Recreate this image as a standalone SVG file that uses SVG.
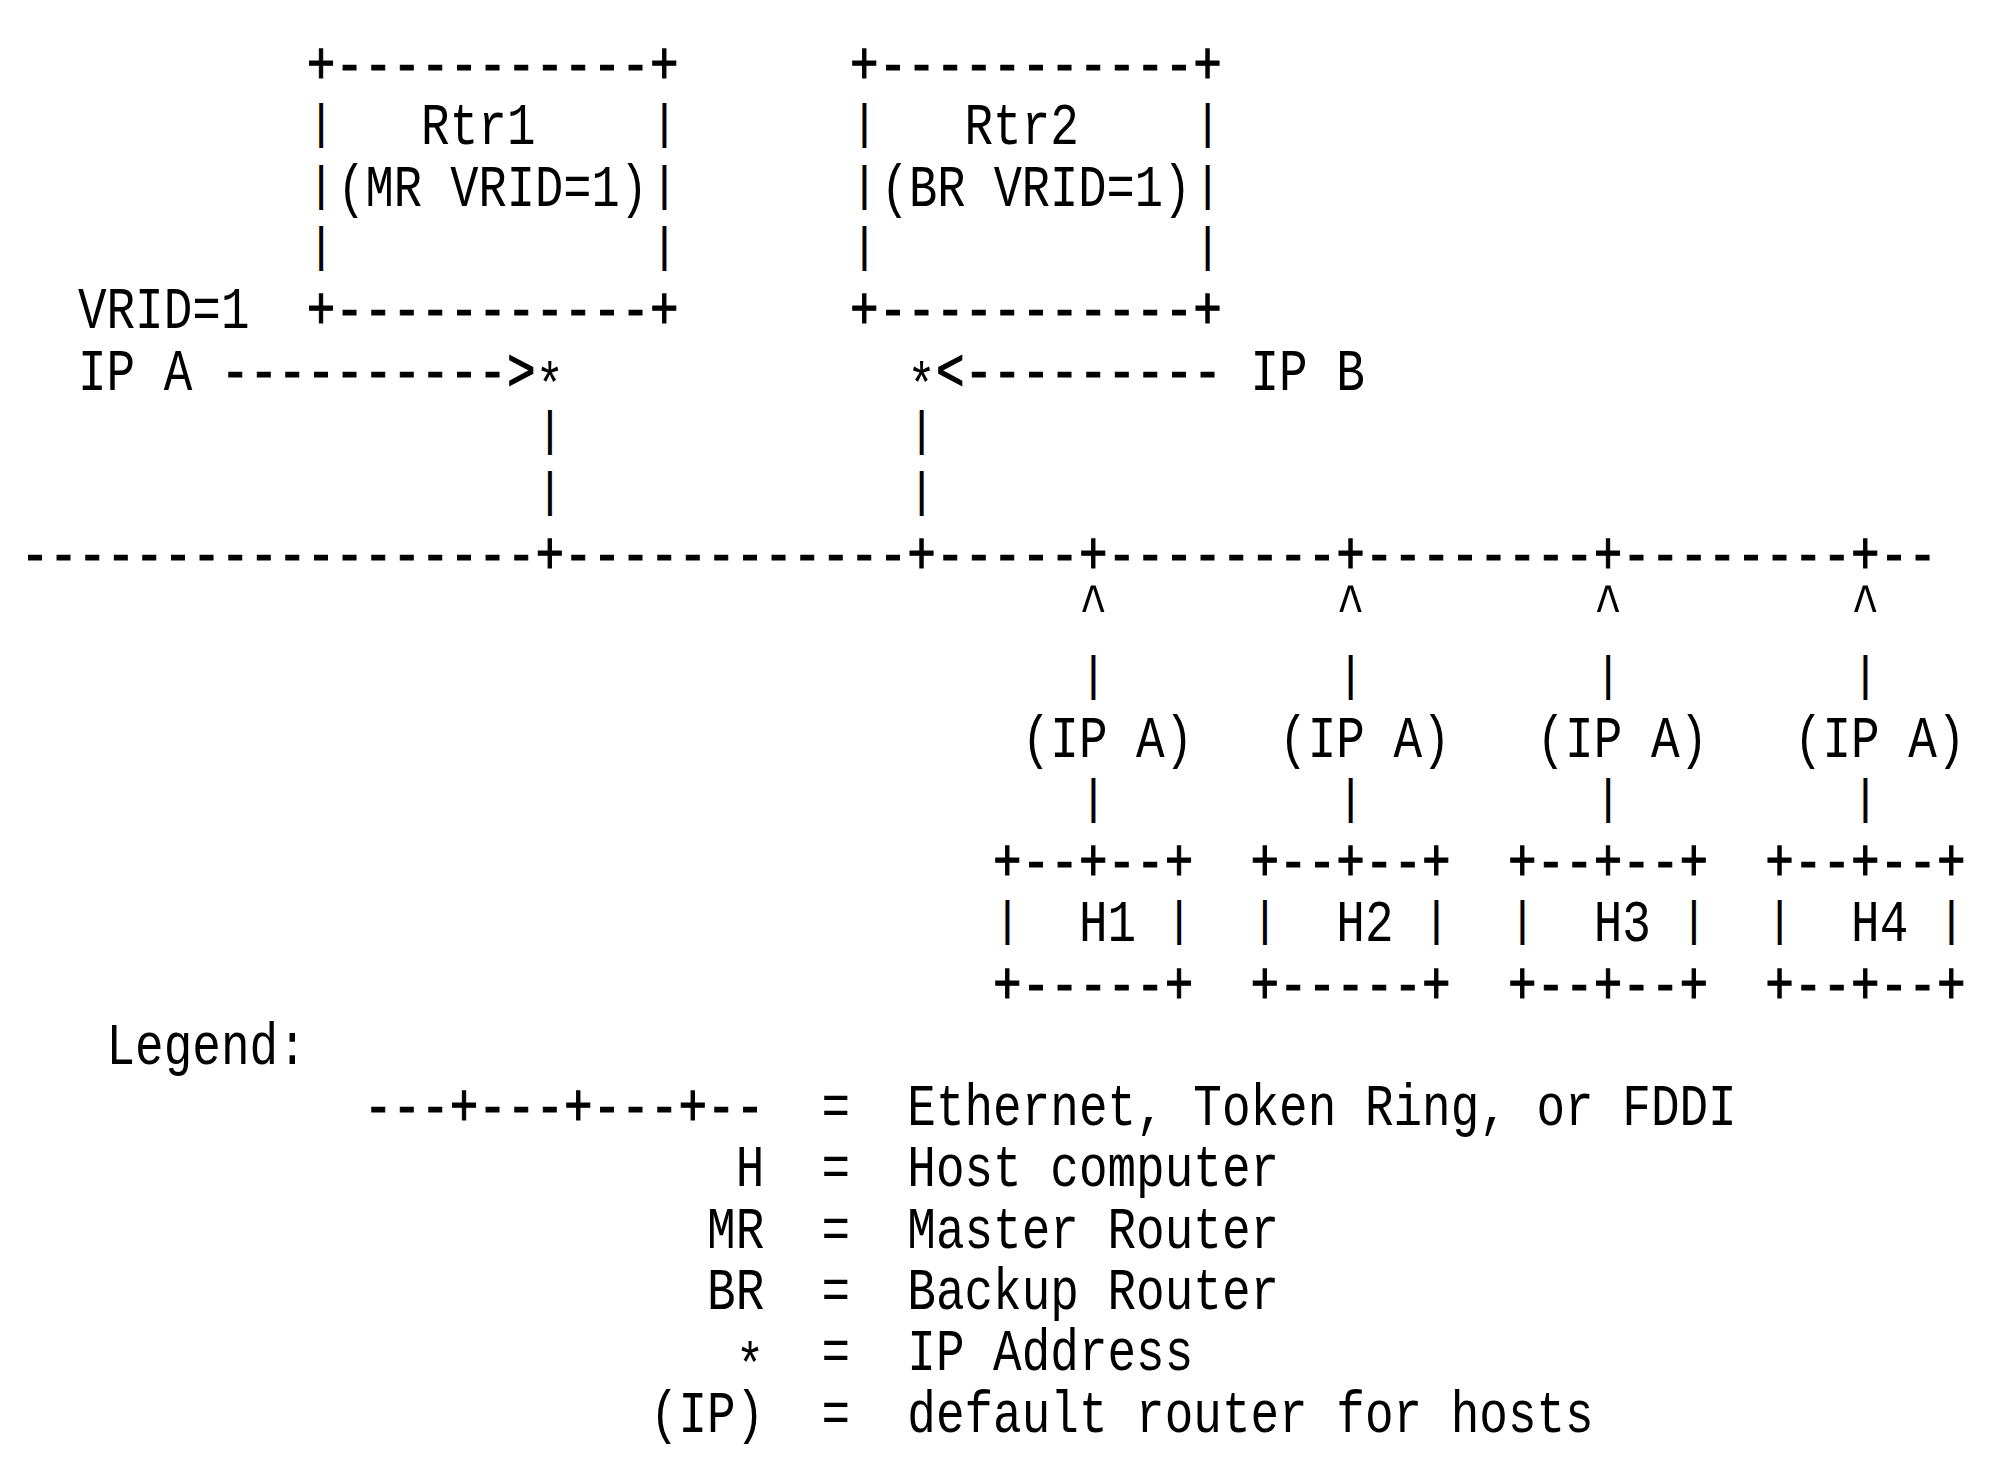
<svg xmlns="http://www.w3.org/2000/svg" width="2000" height="1465" viewBox="0 0 2000 1465">
<style>
text { font-family: "Liberation Mono", "DejaVu Sans Mono", monospace; font-size: 60px; fill: #000; }
.p { font-size: 48px; }
.d { stroke: #000; stroke-width: 1.2px; }
</style>
<rect x="0" y="0" width="2000" height="1465" fill="#fff"/>

<g id="rtr1">
  <text class="d" x="306.7" y="83" textLength="371.8" lengthAdjust="spacingAndGlyphs">+-----------+</text>
  <text class="p" x="306.7" y="138.3">|</text>
  <text x="421.1" y="144.3" textLength="114.4" lengthAdjust="spacingAndGlyphs">Rtr1</text>
  <text class="p" x="649.9" y="138.3">|</text>
  <text class="p" x="306.7" y="199.6">|</text>
  <text x="337.3" y="205.6" textLength="310.6" lengthAdjust="spacingAndGlyphs">(MR VRID=1)</text>
  <text class="p" x="649.9" y="199.6">|</text>
  <text class="p" x="306.7" y="260.9">|</text>
  <text class="p" x="649.9" y="260.9">|</text>
  <text class="d" x="306.7" y="328.2" textLength="371.8" lengthAdjust="spacingAndGlyphs">+-----------+</text>
</g>

<g id="rtr2">
  <text class="d" x="850.1" y="83" textLength="371.8" lengthAdjust="spacingAndGlyphs">+-----------+</text>
  <text class="p" x="850.1" y="138.3">|</text>
  <text x="964.5" y="144.3" textLength="114.4" lengthAdjust="spacingAndGlyphs">Rtr2</text>
  <text class="p" x="1193.3" y="138.3">|</text>
  <text class="p" x="850.1" y="199.6">|</text>
  <text x="880.7" y="205.6" textLength="310.6" lengthAdjust="spacingAndGlyphs">(BR VRID=1)</text>
  <text class="p" x="1193.3" y="199.6">|</text>
  <text class="p" x="850.1" y="260.9">|</text>
  <text class="p" x="1193.3" y="260.9">|</text>
  <text class="d" x="850.1" y="328.2" textLength="371.8" lengthAdjust="spacingAndGlyphs">+-----------+</text>
</g>

<g id="labels">
  <text x="77.9" y="328.2" textLength="171.6" lengthAdjust="spacingAndGlyphs">VRID=1</text>
  <text x="77.9" y="389.5" textLength="114.4" lengthAdjust="spacingAndGlyphs">IP A</text>
  <text x="1250.5" y="389.5" textLength="114.4" lengthAdjust="spacingAndGlyphs">IP B</text>
</g>

<g id="connectors">
  <text class="d" x="220.9" y="389.5" textLength="314.6" lengthAdjust="spacingAndGlyphs">----------&gt;</text>
  <text x="535.5" y="403.5" textLength="28.6" lengthAdjust="spacingAndGlyphs">*</text>
  <text x="907.3" y="403.5" textLength="28.6" lengthAdjust="spacingAndGlyphs">*</text>
  <text class="d" x="935.9" y="389.5" textLength="286" lengthAdjust="spacingAndGlyphs">&lt;---------</text>
  <text class="p" x="535.5" y="444.8">|</text>
  <text class="p" x="535.5" y="506.1">|</text>
  <text class="p" x="907.3" y="444.8">|</text>
  <text class="p" x="907.3" y="506.1">|</text>
  <text class="d" x="20.7" y="573.4" textLength="1916.2" lengthAdjust="spacingAndGlyphs">------------------+------------+-----+--------+--------+--------+--</text>
  <text x="1078.9" y="624.7" textLength="28.6" lengthAdjust="spacingAndGlyphs">^</text>
  <text x="1336.3" y="624.7" textLength="28.6" lengthAdjust="spacingAndGlyphs">^</text>
  <text x="1593.7" y="624.7" textLength="28.6" lengthAdjust="spacingAndGlyphs">^</text>
  <text x="1851.1" y="624.7" textLength="28.6" lengthAdjust="spacingAndGlyphs">^</text>
  <text class="p" x="1078.9" y="690">|</text>
  <text class="p" x="1336.3" y="690">|</text>
  <text class="p" x="1593.7" y="690">|</text>
  <text class="p" x="1851.1" y="690">|</text>
  <text x="1021.7" y="757.3" textLength="171.6" lengthAdjust="spacingAndGlyphs">(IP A)</text>
  <text x="1279.1" y="757.3" textLength="171.6" lengthAdjust="spacingAndGlyphs">(IP A)</text>
  <text x="1536.5" y="757.3" textLength="171.6" lengthAdjust="spacingAndGlyphs">(IP A)</text>
  <text x="1793.9" y="757.3" textLength="171.6" lengthAdjust="spacingAndGlyphs">(IP A)</text>
  <text class="p" x="1078.9" y="812.6">|</text>
  <text class="p" x="1336.3" y="812.6">|</text>
  <text class="p" x="1593.7" y="812.6">|</text>
  <text class="p" x="1851.1" y="812.6">|</text>
</g>

<g id="h1">
  <text class="d" x="993.1" y="879.9" textLength="200.2" lengthAdjust="spacingAndGlyphs">+--+--+</text>
  <text class="p" x="993.1" y="935.2">|</text>
  <text x="1078.9" y="941.2" textLength="57.2" lengthAdjust="spacingAndGlyphs">H1</text>
  <text class="p" x="1164.7" y="935.2">|</text>
  <text class="d" x="993.1" y="1002.5" textLength="200.2" lengthAdjust="spacingAndGlyphs">+-----+</text>
</g>
<g id="h2">
  <text class="d" x="1250.5" y="879.9" textLength="200.2" lengthAdjust="spacingAndGlyphs">+--+--+</text>
  <text class="p" x="1250.5" y="935.2">|</text>
  <text x="1336.3" y="941.2" textLength="57.2" lengthAdjust="spacingAndGlyphs">H2</text>
  <text class="p" x="1422.1" y="935.2">|</text>
  <text class="d" x="1250.5" y="1002.5" textLength="200.2" lengthAdjust="spacingAndGlyphs">+-----+</text>
</g>
<g id="h3">
  <text class="d" x="1507.9" y="879.9" textLength="200.2" lengthAdjust="spacingAndGlyphs">+--+--+</text>
  <text class="p" x="1507.9" y="935.2">|</text>
  <text x="1593.7" y="941.2" textLength="57.2" lengthAdjust="spacingAndGlyphs">H3</text>
  <text class="p" x="1679.5" y="935.2">|</text>
  <text class="d" x="1507.9" y="1002.5" textLength="200.2" lengthAdjust="spacingAndGlyphs">+--+--+</text>
</g>
<g id="h4">
  <text class="d" x="1765.3" y="879.9" textLength="200.2" lengthAdjust="spacingAndGlyphs">+--+--+</text>
  <text class="p" x="1765.3" y="935.2">|</text>
  <text x="1851.1" y="941.2" textLength="57.2" lengthAdjust="spacingAndGlyphs">H4</text>
  <text class="p" x="1936.9" y="935.2">|</text>
  <text class="d" x="1765.3" y="1002.5" textLength="200.2" lengthAdjust="spacingAndGlyphs">+--+--+</text>
</g>

<g id="legend">
  <text x="106.5" y="1063.8" textLength="200.2" lengthAdjust="spacingAndGlyphs">Legend:</text>
  <text class="d" x="363.9" y="1125.1" textLength="400.4" lengthAdjust="spacingAndGlyphs">---+---+---+--</text>
  <text x="821.5" y="1125.1" textLength="28.6" lengthAdjust="spacingAndGlyphs">=</text>
  <text x="907.3" y="1125.1" textLength="829.4" lengthAdjust="spacingAndGlyphs">Ethernet, Token Ring, or FDDI</text>
  <text x="735.7" y="1186.4" textLength="28.6" lengthAdjust="spacingAndGlyphs">H</text>
  <text x="821.5" y="1186.4" textLength="28.6" lengthAdjust="spacingAndGlyphs">=</text>
  <text x="907.3" y="1186.4" textLength="371.8" lengthAdjust="spacingAndGlyphs">Host computer</text>
  <text x="707.1" y="1247.7" textLength="57.2" lengthAdjust="spacingAndGlyphs">MR</text>
  <text x="821.5" y="1247.7" textLength="28.6" lengthAdjust="spacingAndGlyphs">=</text>
  <text x="907.3" y="1247.7" textLength="371.8" lengthAdjust="spacingAndGlyphs">Master Router</text>
  <text x="707.1" y="1309" textLength="57.2" lengthAdjust="spacingAndGlyphs">BR</text>
  <text x="821.5" y="1309" textLength="28.6" lengthAdjust="spacingAndGlyphs">=</text>
  <text x="907.3" y="1309" textLength="371.8" lengthAdjust="spacingAndGlyphs">Backup Router</text>
  <text x="735.7" y="1384.3" textLength="28.6" lengthAdjust="spacingAndGlyphs">*</text>
  <text x="821.5" y="1370.3" textLength="28.6" lengthAdjust="spacingAndGlyphs">=</text>
  <text x="907.3" y="1370.3" textLength="286" lengthAdjust="spacingAndGlyphs">IP Address</text>
  <text x="649.9" y="1431.6" textLength="114.4" lengthAdjust="spacingAndGlyphs">(IP)</text>
  <text x="821.5" y="1431.6" textLength="28.6" lengthAdjust="spacingAndGlyphs">=</text>
  <text x="907.3" y="1431.6" textLength="686.4" lengthAdjust="spacingAndGlyphs">default router for hosts</text>
</g>
</svg>
